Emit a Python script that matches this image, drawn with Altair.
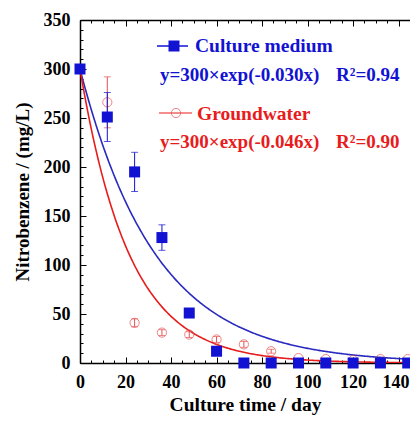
import altair as alt
import pandas as pd

# ---------------- data ----------------
days = [0, 12, 24, 36, 48, 60, 72, 84, 96, 108, 120, 132, 144]
medium = [300, 251, 195, 128, 51, 12, 0, 0, 0, 0, 0, 0, 0]
medium_err = [0, 25, 20, 13, 0, 0, 0, 0, 0, 0, 0, 0, 0]
ground = [300, 266, 41, 31, 29, 24, 19, 12, 5, 4, 3, 4, 4]
ground_err = [0, 26, 4, 3, 3, 3, 3, 2, 0, 0, 0, 0, 0]

fit_names = ["Culture medium", "Groundwater"]
fit_a = [300, 300]
fit_k = [0.030, 0.046]
fit_eq = ["y=300×exp(-0.030x)", "y=300×exp(-0.046x)"]
fit_r2 = ["R²=0.94", "R²=0.90"]

x_ticks = [0, 20, 40, 60, 80, 100, 120, 140]
x_minor = list(range(0, 146, 5))
y_ticks = [0, 50, 100, 150, 200, 250, 300, 350]
y_minor = list(range(0, 351, 10))

# ---------------- style ----------------
W, H = 330, 343
FONT = "Liberation Serif"
BLUE = "#1212d2"
BLUE_LINE = "#2a2ac0"
RED = "#e81c1c"
RED_PT = "#e65050"

df = pd.DataFrame({"day": days, "medium": medium, "merr": medium_err,
                   "ground": ground, "gerr": ground_err})
df["mlo"] = df["medium"] - df["merr"]
df["mhi"] = df["medium"] + df["merr"]
df["glo"] = df["ground"] - df["gerr"]
df["ghi"] = df["ground"] + df["gerr"]
dm = df[df["merr"] > 0]
dg = df[df["gerr"] > 0]

xs = alt.Scale(domain=[0, 145], nice=False)
ys = alt.Scale(domain=[0, 350], nice=False)

lab = dict(labelFont=FONT, labelFontSize=18, labelFontWeight="bold", labelColor="black",
           grid=False, titleFont=FONT, titleFontWeight="bold", titleColor="black")

ax_x_lab = alt.Axis(values=x_ticks, ticks=False, domain=True, domainColor="black", domainWidth=1.5,
                    labelPadding=10, labelFlush=False, title="Culture time / day",
                    labelOffset={"condition": {"test": "datum.value == 140", "value": -3}, "value": 0},
                    titleFontSize=19.5, titleY=41, titleBaseline="middle", **lab)
ax_y_lab = alt.Axis(values=y_ticks, ticks=False, domain=True, domainColor="black", domainWidth=1.5,
                    labelPadding=10, labelFlush=False, labelBaseline="middle",
                    title="Nitrobenzene / (mg/L)", titleFontSize=19, titleX=-58, titleY=H / 2,
                    titleAngle=270, titleBaseline="middle", titleAlign="center", **lab)

def tick_axis(orient, offset, vals, size, domain=False):
    kw = dict(orient=orient, offset=offset, values=vals, labels=False, domain=domain,
              grid=False, tickSize=size, tickColor="black", tickWidth=1, title=None)
    if domain:
        kw.update(domainColor="black", domainWidth=1.5)
    return alt.Axis(**kw)

ax_x_bot_major = tick_axis("top", -H, x_ticks, 6)
ax_x_bot_minor = tick_axis("top", -H, x_minor, 3)
ax_x_top_major = tick_axis("bottom", -H, x_ticks, 6, domain=True)
ax_x_top_minor = tick_axis("bottom", -H, x_minor, 3)
ax_y_left_major = tick_axis("right", -W, y_ticks, 6)
ax_y_left_minor = tick_axis("right", -W, y_minor, 3)

# ---------------- curves ----------------
def curve(i, color, xaxis, yaxis):
    return (alt.Chart(alt.sequence(0, 145.5, 0.5, as_="t"))
            .transform_calculate(v=f"{fit_a[i]}*exp(-{fit_k[i]}*datum.t)")
            .mark_line(color=color, strokeWidth=1.6, clip=True)
            .encode(x=alt.X("t:Q", scale=xs, axis=xaxis),
                    y=alt.Y("v:Q", scale=ys, axis=yaxis)))

blue_curve = curve(0, BLUE_LINE, ax_x_lab, ax_y_lab)
red_curve = curve(1, RED, ax_x_bot_major, ax_y_left_major)

base_g = alt.Chart(dg)
g_rule = base_g.mark_rule(color=RED_PT, strokeWidth=1).encode(
    x=alt.X("day:Q", scale=xs, axis=ax_x_bot_minor),
    y=alt.Y("glo:Q", scale=ys, axis=ax_y_left_minor), y2="ghi:Q")
g_cap_hi = base_g.mark_tick(color=RED_PT, orient="horizontal", size=7, thickness=1).encode(
    x=alt.X("day:Q", scale=xs, axis=ax_x_top_major), y=alt.Y("ghi:Q", scale=ys, axis=None))
g_cap_lo = base_g.mark_tick(color=RED_PT, orient="horizontal", size=7, thickness=1).encode(
    x=alt.X("day:Q", scale=xs, axis=ax_x_top_minor), y=alt.Y("glo:Q", scale=ys, axis=None))
g_pts = alt.Chart(df).mark_point(shape="circle", filled=False, color=RED_PT, size=85, strokeWidth=1).encode(
    x=alt.X("day:Q", scale=xs, axis=None), y=alt.Y("ground:Q", scale=ys, axis=None))

base_m = alt.Chart(dm)
m_rule = base_m.mark_rule(color=BLUE, strokeWidth=1).encode(
    x=alt.X("day:Q", scale=xs, axis=None), y=alt.Y("mlo:Q", scale=ys, axis=None), y2="mhi:Q")
m_cap_hi = base_m.mark_tick(color=BLUE, orient="horizontal", size=7, thickness=1).encode(
    x=alt.X("day:Q", scale=xs, axis=None), y=alt.Y("mhi:Q", scale=ys, axis=None))
m_cap_lo = base_m.mark_tick(color=BLUE, orient="horizontal", size=7, thickness=1).encode(
    x=alt.X("day:Q", scale=xs, axis=None), y=alt.Y("mlo:Q", scale=ys, axis=None))
m_pts = alt.Chart(df).mark_square(color=BLUE, size=121, opacity=1).encode(
    x=alt.X("day:Q", scale=xs, axis=None), y=alt.Y("medium:Q", scale=ys, axis=None))

# ---------------- legend ----------------
one = pd.DataFrame({"k": [0]})
def txt(s, x, y, color, size=19):
    return alt.Chart(one).mark_text(text=s, font=FONT, fontSize=size, fontWeight="bold",
                                    color=color, align="left", baseline="alphabetic").encode(
        x=alt.value(x), y=alt.value(y))

leg = [
    alt.Chart(one).mark_rule(color=BLUE, strokeWidth=1.5).encode(
        x=alt.value(77), x2=alt.value(108), y=alt.value(26)),
    alt.Chart(one).mark_square(color=BLUE, size=121, opacity=1).encode(
        x=alt.value(94), y=alt.value(26)),
    txt(fit_names[0], 115, 32, BLUE, 19.5),
    txt(fit_eq[0], 80, 61, BLUE, 19),
    txt(fit_r2[0], 256, 61, BLUE, 19),
    alt.Chart(one).mark_rule(color=RED, strokeWidth=1).encode(
        x=alt.value(79), x2=alt.value(112), y=alt.value(93)),
    alt.Chart(one).mark_point(shape="circle", filled=False, color=RED_PT, size=85, strokeWidth=1).encode(
        x=alt.value(96), y=alt.value(93)),
    txt(fit_names[1], 117, 100, RED, 19.5),
    txt(fit_eq[1], 80, 128, RED, 19),
    txt(fit_r2[1], 256, 128, RED, 19),
]

chart = alt.layer(
    blue_curve, red_curve, g_rule, g_cap_hi, g_cap_lo, g_pts,
    m_rule, m_cap_hi, m_cap_lo, m_pts, *leg
).resolve_axis(x="independent", y="independent").properties(
    width=W, height=H,
    autosize=alt.AutoSizeParams(type="none"),
    padding={"left": 72, "top": 12, "right": 0, "bottom": 53},
    background="white",
).configure_view(stroke=None)

chart.save("out.html", embed_options={"renderer": "svg", "actions": False})
